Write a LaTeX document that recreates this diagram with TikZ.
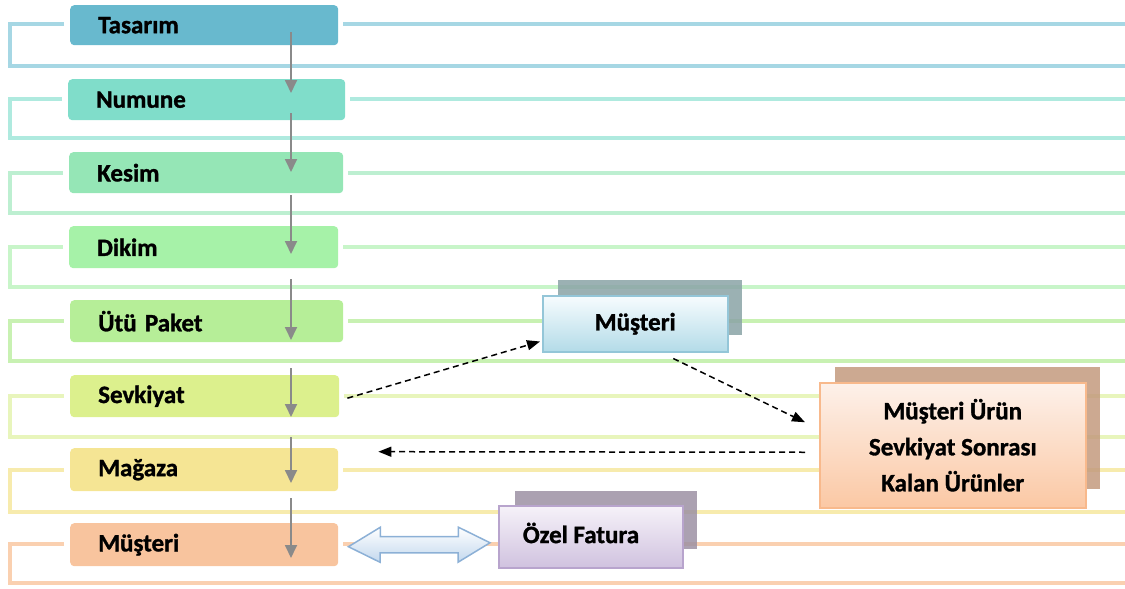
\documentclass[tikz,border=0pt]{standalone}
\usepackage{fontspec}
\setmainfont{Carlito}[BoldFeatures={FakeBold=1.2}]
\usetikzlibrary{arrows.meta}
\definecolor{b1}{HTML}{68B9CE}\definecolor{l1}{HTML}{A6D7E4}
\definecolor{b2}{HTML}{80DDCA}\definecolor{l2}{HTML}{AFEADF}
\definecolor{b3}{HTML}{95E6B6}\definecolor{l3}{HTML}{BDEFD1}
\definecolor{b4}{HTML}{A6F2A8}\definecolor{l4}{HTML}{C8F5C9}
\definecolor{b5}{HTML}{B6EE98}\definecolor{l5}{HTML}{C8F1B2}
\definecolor{b6}{HTML}{DCF08D}\definecolor{l6}{HTML}{E8F5BC}
\definecolor{b7}{HTML}{F5E594}\definecolor{l7}{HTML}{F7EBAD}
\definecolor{b8}{HTML}{F8C49E}\definecolor{l8}{HTML}{FAD0B0}
\definecolor{flowgray}{HTML}{8A8A8A}
\definecolor{shblue}{HTML}{8AA3A6}
\definecolor{shtan}{HTML}{C39A7E}
\definecolor{shpurp}{HTML}{9C91A3}
\definecolor{bluetop}{HTML}{F7FCFE}\definecolor{bluebot}{HTML}{B3DBE8}\definecolor{blueedge}{HTML}{94C6D8}
\definecolor{peachtop}{HTML}{FDF1EA}\definecolor{peachbot}{HTML}{FBC8A4}\definecolor{peachedge}{HTML}{F8B98C}
\definecolor{lavtop}{HTML}{F6F2F9}\definecolor{lavbot}{HTML}{D0C2DF}\definecolor{lavedge}{HTML}{B8A4CD}
\definecolor{arrtop}{HTML}{FFFFFF}\definecolor{arrbot}{HTML}{C3D8EE}\definecolor{arredge}{HTML}{8CB0D6}
\begin{document}
\begin{tikzpicture}[x=1pt,y=-1pt,
  font=\fontsize{25}{36}\selectfont\bfseries,
  rowbox/.style={anchor=north west, rounded corners=4pt, inner xsep=28pt, inner ysep=0pt, align=left, text=black},
  rowline/.style={line width=4pt},
  flow/.style={draw=flowgray, line width=1.8pt, -{Triangle[length=13pt,width=12pt]}},
  dashconn/.style={draw=black, line width=1.5pt, dash pattern=on 6pt off 4pt, -{Triangle[length=13pt,width=10pt]}},
  frontbox/.style={anchor=north west, line width=1.5pt, inner sep=0pt, align=center, text=black},
]
\useasboundingbox (0,0) rectangle (1125,589);
% bracket lines
\draw[rowline,l1] (64,24) -- (10,24) -- (10,66) -- (1125,66);
\draw[rowline,l1] (343,24) -- (1125,24);
\draw[rowline,l2] (62,99) -- (10,99) -- (10,138) -- (1125,138);
\draw[rowline,l2] (350,99) -- (1125,99);
\draw[rowline,l3] (63,172.5) -- (10,172.5) -- (10,213) -- (1125,213);
\draw[rowline,l3] (348,172.5) -- (1125,172.5);
\draw[rowline,l4] (63,247) -- (10,247) -- (10,287) -- (1125,287);
\draw[rowline,l4] (343,247) -- (1125,247);
\draw[rowline,l5] (64,321) -- (10,321) -- (10,361) -- (1125,361);
\draw[rowline,l5] (348,321) -- (1125,321);
\draw[rowline,l6] (64,396) -- (10,396) -- (10,437) -- (1125,437);
\draw[rowline,l6] (344,396) -- (1125,396);
\draw[rowline,l7] (64,470) -- (10,470) -- (10,512) -- (1125,512);
\draw[rowline,l7] (343,470) -- (1125,470);
\draw[rowline,l8] (64,544) -- (10,544) -- (10,583) -- (1125,583);
\draw[rowline,l8] (343,544) -- (1125,544);
% row boxes
\node[rowbox, fill=b1, minimum width=268pt, minimum height=40pt, text width=212pt] (tas) at (70,5) {Tasarım};
\node[rowbox, fill=b2, minimum width=277pt, minimum height=41pt, text width=221pt] (num) at (68,79) {Numune};
\node[rowbox, fill=b3, minimum width=274pt, minimum height=41pt, text width=218pt] (kes) at (69,152) {Kesim};
\node[rowbox, fill=b4, minimum width=269pt, minimum height=42pt, text width=213pt] (dik) at (69,226) {Dikim};
\node[rowbox, fill=b5, minimum width=273pt, minimum height=42pt, text width=217pt] (utu) at (70,300) {Ütü Paket};
\node[rowbox, fill=b6, minimum width=269pt, minimum height=42pt, text width=213pt] (sev) at (70,375) {Sevkiyat};
\node[rowbox, fill=b7, minimum width=268pt, minimum height=43pt, text width=212pt] (mag) at (70,448) {Mağaza};
\node[rowbox, fill=b8, minimum width=268pt, minimum height=43pt, text width=212pt] (mus) at (70,523) {Müşteri};
% flow arrows
\draw[flow] ([xshift=221pt,yshift=13pt]tas.south west) -- ([xshift=223pt,yshift=-14pt]num.north west);
\draw[flow] ([xshift=223pt,yshift=7pt]num.south west) -- ([xshift=222pt,yshift=-20pt]kes.north west);
\draw[flow] ([xshift=222pt,yshift=-2pt]kes.south west) -- ([xshift=222pt,yshift=-28pt]dik.north west);
\draw[flow] ([xshift=222pt,yshift=-11pt]dik.south west) -- ([xshift=221pt,yshift=-40pt]utu.north west);
\draw[flow] ([xshift=221pt,yshift=-26pt]utu.south west) -- ([xshift=221pt,yshift=-42pt]sev.north west);
\draw[flow] ([xshift=221pt,yshift=-20pt]sev.south west) -- ([xshift=221pt,yshift=-35pt]mag.north west);
\draw[flow] ([xshift=221pt,yshift=-7pt]mag.south west) -- ([xshift=221pt,yshift=-35pt]mus.north west);
% side boxes
\fill[shblue, fill opacity=0.85] (558,280) rectangle (742,335);
\node[frontbox, draw=blueedge, top color=bluetop, bottom color=bluebot, minimum width=185pt, minimum height=56pt] (musb) at (542,295) {Müşteri};
\fill[shtan, fill opacity=0.85] (835,367) rectangle (1100,489);
\node[frontbox, draw=peachedge, top color=peachtop, bottom color=peachbot, minimum width=266pt, minimum height=125pt] (kalan) at (819,382) {Müşteri Ürün\\Sevkiyat Sonrası\\Kalan Ürünler};
\fill[shpurp, fill opacity=0.85] (515,491) rectangle (697,549);
\node[frontbox, draw=lavedge, top color=lavtop, bottom color=lavbot, minimum width=184pt, minimum height=62pt] (fat) at (498,505) {};
\node[font=\fontsize{25}{36}\selectfont\bfseries] (fattxt) at (581,533) {Özel Fatura};
% double arrow between Müşteri and Özel Fatura
\coordinate (dl) at ([xshift=10pt,yshift=-2pt]mus.east);
\coordinate (dr) at ([xshift=-8pt,yshift=-6pt]fat.west);
\draw[draw=arredge, line width=1.5pt, top color=arrtop, bottom color=arrbot]
  (dl) -- ++(32,-19.5) -- ++(0,9.5) -- ++(78,0) -- ++(0,-9.5) -- (dr) -- ++(-32,19.5) -- ++(0,-9.5) -- ++(-78,0) -- ++(0,9.5) -- cycle;
% dashed connectors
\draw[dashconn] ([xshift=8pt,yshift=-2pt]sev.east) -- ([xshift=-2pt,yshift=11pt]musb.south west);
\draw[dashconn] ([xshift=38pt,yshift=-6pt]musb.south) -- ([xshift=-14pt,yshift=23pt]kalan.west);
\draw[dashconn] ([xshift=-14pt,yshift=-7pt]kalan.west) -- ([xshift=40pt,yshift=18pt]mag.east);
\end{tikzpicture}
\end{document}
